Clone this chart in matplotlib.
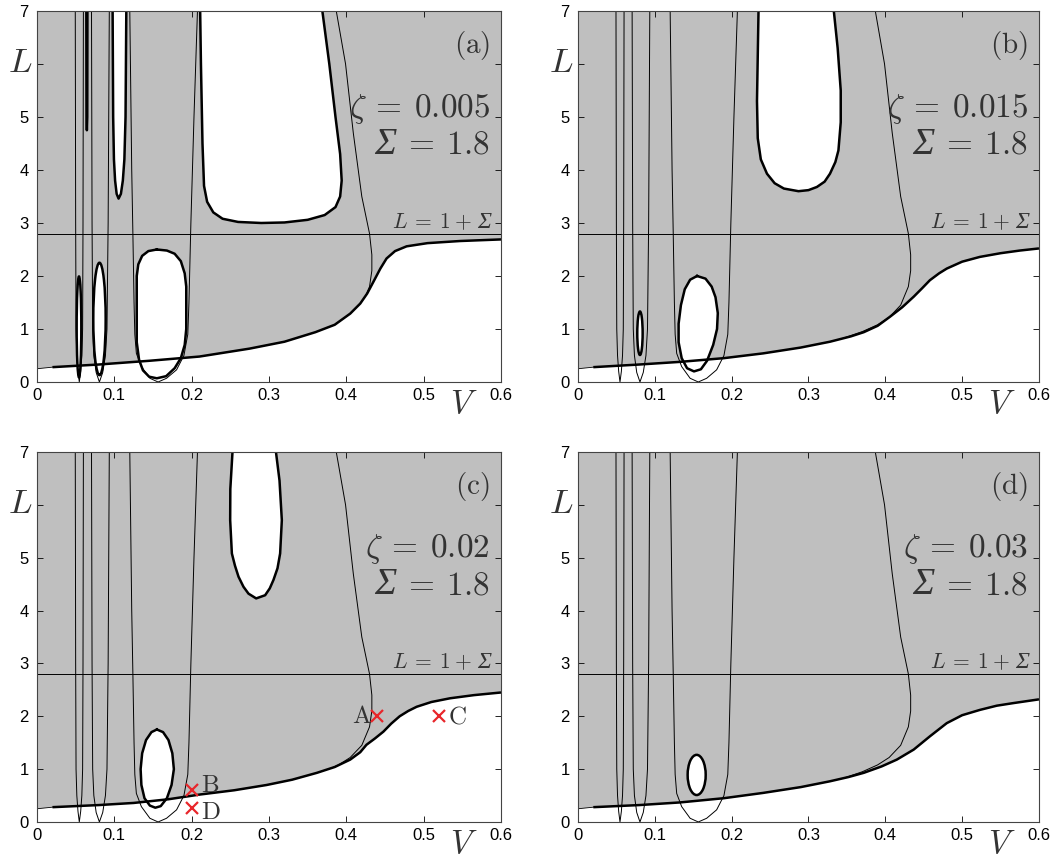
import numpy as np
import matplotlib
matplotlib.use("Agg")
import matplotlib.pyplot as plt
from matplotlib.patches import Polygon, Ellipse

plt.rcParams["mathtext.fontset"] = "cm"
plt.rcParams["font.family"] = ["Liberation Sans", "DejaVu Sans"]

GRAY = "#bfbfbf"
TEXT = "#333333"
RED = "#e8262b"
SIGMA = 1.8
V_MAX = 0.6
L_MAX = 7.0

tags = ["a", "b", "c", "d"]
zetas = ["0.005", "0.015", "0.02", "0.03"]

# lower edge of the grey region (one per panel)
a_bv = [0.0, 0.02, 0.08, 0.145, 0.21, 0.275, 0.32, 0.36, 0.385, 0.405, 0.418,
        0.427, 0.435, 0.444, 0.452, 0.463, 0.478, 0.505, 0.547, 0.6]
a_bl = [0.25, 0.28, 0.33, 0.40, 0.48, 0.63, 0.76, 0.94, 1.08, 1.29, 1.48,
        1.67, 1.89, 2.14, 2.33, 2.47, 2.56, 2.62, 2.66, 2.69]

b_bv = [0.0, 0.02, 0.08, 0.133, 0.19, 0.241, 0.29, 0.328, 0.355, 0.372, 0.39,
        0.406, 0.422, 0.437, 0.448, 0.458, 0.47, 0.48, 0.50, 0.523, 0.55, 0.575, 0.6]
b_bl = [0.25, 0.28, 0.33, 0.38, 0.45, 0.54, 0.65, 0.76, 0.86, 0.94, 1.06,
        1.23, 1.41, 1.61, 1.77, 1.92, 2.05, 2.14, 2.27, 2.36, 2.43, 2.48, 2.52]

c_bv = [0.0, 0.02, 0.08, 0.125, 0.17, 0.211, 0.255, 0.297, 0.33, 0.362, 0.385,
        0.405, 0.418, 0.426, 0.437, 0.448, 0.458, 0.469, 0.48, 0.491, 0.51,
        0.534, 0.565, 0.6]
c_bl = [0.25, 0.28, 0.32, 0.36, 0.43, 0.52, 0.60, 0.70, 0.80, 0.93, 1.04,
        1.18, 1.32, 1.46, 1.58, 1.71, 1.86, 2.0, 2.1, 2.18, 2.27,
        2.34, 2.40, 2.45]

d_bv = [0.0, 0.02, 0.08, 0.133, 0.19, 0.241, 0.29, 0.328, 0.352, 0.372, 0.395,
        0.415, 0.437, 0.458, 0.48, 0.50, 0.523, 0.545, 0.567, 0.6]
d_bl = [0.25, 0.28, 0.32, 0.37, 0.45, 0.55, 0.66, 0.77, 0.85, 0.93, 1.05,
        1.18, 1.37, 1.62, 1.87, 2.02, 2.12, 2.20, 2.25, 2.32]

# thin contours, the same in every panel
u1_v = [0.0495, 0.0500, 0.0505, 0.0515, 0.0530, 0.0547, 0.0565, 0.0580, 0.0590, 0.0595, 0.0600]
u1_l = [7.0, 3.0, 1.0, 0.5, 0.2, 0.0, 0.2, 0.5, 1.0, 3.0, 7.0]
u2_v = [0.0705, 0.0712, 0.0720, 0.0735, 0.0765, 0.0807, 0.0850, 0.0885, 0.0905, 0.0920, 0.0935]
u2_l = [7.0, 3.0, 1.0, 0.5, 0.18, 0.0, 0.18, 0.5, 1.0, 3.0, 7.0]
u3_v = [0.1200, 0.1225, 0.1240, 0.1255, 0.1265, 0.1285, 0.1350, 0.1460, 0.1566,
        0.1675, 0.1805, 0.1900, 0.1950, 0.1965, 0.1990, 0.2030, 0.2075]
u3_l = [7.0, 4.0, 2.8, 1.5, 0.9, 0.54, 0.29, 0.07, 0.0,
        0.07, 0.23, 0.5, 0.9, 1.5, 3.0, 5.0, 7.0]
right_v = [0.3870, 0.3990, 0.4090, 0.4200, 0.4300, 0.4330, 0.4330, 0.4300,
           0.4200, 0.4050, 0.3900, 0.3700, 0.3500, 0.3300]
right_l = [7.0, 6.0, 4.7, 3.5, 2.8, 2.4, 2.1, 1.8,
           1.45, 1.22, 1.08, 0.95, 0.85, 0.75]

# white islands
a_big_v = [0.155, 0.168, 0.178, 0.186, 0.191, 0.193, 0.193, 0.191, 0.186, 0.178,
           0.167, 0.155, 0.145, 0.137, 0.132, 0.129, 0.129, 0.131, 0.136, 0.144]
a_big_l = [2.50, 2.48, 2.42, 2.28, 2.05, 1.80, 1.00, 0.70, 0.45, 0.26,
           0.11, 0.07, 0.10, 0.22, 0.42, 0.75, 2.00, 2.22, 2.38, 2.47]
a_tall_v = [0.0978, 0.0985, 0.0995, 0.1010, 0.1030, 0.1055, 0.1085, 0.1110, 0.1130, 0.1145, 0.1155]
a_tall_l = [7.0, 5.0, 4.2, 3.8, 3.55, 3.46, 3.55, 3.8, 4.2, 5.0, 7.0]
a_needle_v = [0.0638, 0.0640, 0.0645, 0.0650, 0.0652]
a_needle_l = [7.0, 5.0, 4.75, 5.0, 7.0]
a_top_v = [0.211, 0.212, 0.214, 0.216, 0.220, 0.228, 0.240, 0.260, 0.290, 0.320,
           0.350, 0.372, 0.386, 0.392, 0.394, 0.392, 0.386, 0.378, 0.369]
a_top_l = [7.0, 6.0, 4.5, 3.7, 3.4, 3.2, 3.08, 3.02, 3.0, 3.01,
           3.06, 3.15, 3.3, 3.5, 3.8, 4.3, 5.0, 6.0, 7.0]

b_egg_v = [0.155, 0.166, 0.174, 0.179, 0.182, 0.181, 0.176, 0.168, 0.160, 0.151,
           0.142, 0.135, 0.131, 0.131, 0.134, 0.139, 0.146]
b_egg_l = [2.0, 1.95, 1.8, 1.6, 1.3, 1.0, 0.7, 0.4, 0.24, 0.2,
           0.26, 0.45, 0.75, 1.1, 1.45, 1.75, 1.93]
b_top_v = [0.235, 0.233, 0.234, 0.238, 0.246, 0.256, 0.268, 0.287, 0.300, 0.311,
           0.321, 0.328, 0.335, 0.339, 0.342, 0.342, 0.338, 0.333]
b_top_l = [7.0, 5.3, 4.6, 4.2, 3.93, 3.75, 3.65, 3.6, 3.62, 3.68,
           3.78, 3.93, 4.15, 4.37, 4.9, 5.5, 6.3, 7.0]

c_egg_v = [0.155, 0.163, 0.170, 0.175, 0.177, 0.174, 0.168, 0.160, 0.153, 0.146,
           0.139, 0.135, 0.134, 0.136, 0.141, 0.148]
c_egg_l = [1.75, 1.70, 1.55, 1.30, 1.00, 0.70, 0.45, 0.30, 0.27, 0.31,
           0.45, 0.70, 1.00, 1.30, 1.55, 1.70]
c_top_v = [0.2528, 0.2500, 0.2498, 0.2520, 0.2560, 0.2606, 0.2670, 0.2735, 0.2834,
           0.2950, 0.3010, 0.3058, 0.3110, 0.3144, 0.3166, 0.3136, 0.3090]
c_top_l = [7.0, 6.3, 5.71, 5.08, 4.85, 4.64, 4.45, 4.32, 4.23,
           4.29, 4.42, 4.58, 4.8, 5.08, 5.71, 6.46, 7.0]

# small elliptic islands: centre V, centre L, width, height
a_ell = [(0.0543, 1.04, 0.0060, 1.90), (0.0808, 1.19, 0.0160, 2.12)]
b_ell = [(0.0807, 0.92, 0.0070, 0.82)]
c_ell = []
d_ell = [(0.1545, 0.89, 0.0235, 0.76)]

# points marked in panel (c)
pt_names = ["A", "B", "C", "D"]
pt_v = [0.44, 0.20, 0.52, 0.20]
pt_l = [2.0, 0.6, 2.0, 0.27]

x_ticks = [0.0, 0.1, 0.2, 0.3, 0.4, 0.5, 0.6]
x_labels = ["0", "0.1", "0.2", "0.3", "0.4", "0.5", "0.6"]
y_ticks = [0, 1, 2, 3, 4, 5, 6, 7]
y_labels = ["0", "1", "2", "3", "4", "5", "", "7"]

panels = [
    (a_bv, a_bl, [(a_big_v, a_big_l), (a_tall_v, a_tall_l), (a_needle_v, a_needle_l), (a_top_v, a_top_l)], a_ell),
    (b_bv, b_bl, [(b_egg_v, b_egg_l), (b_top_v, b_top_l)], b_ell),
    (c_bv, c_bl, [(c_egg_v, c_egg_l), (c_top_v, c_top_l)], c_ell),
    (d_bv, d_bl, [], d_ell),
]

positions = [
    [0.0348, 0.5553, 0.4365, 0.4319],
    [0.5437, 0.5553, 0.4337, 0.4319],
    [0.0348, 0.0431, 0.4365, 0.4307],
    [0.5437, 0.0431, 0.4337, 0.4307],
]

# italic capital sigma, set in a serif face (cm mathtext keeps it upright)
SIG_FONT = dict(fontfamily="Liberation Serif", fontstyle="italic", color=TEXT)


def draw_panel(ax, tag, zeta, bv, bl, islands, ellipses):
    ax.set_xlim(0, V_MAX)
    ax.set_ylim(0, L_MAX)

    verts = list(zip(bv, bl)) + [(V_MAX, L_MAX), (0, L_MAX)]
    region = Polygon(verts, closed=True, facecolor=GRAY, edgecolor="none", zorder=1)
    ax.add_patch(region)
    ax.plot(bv, bl, color="k", lw=0.6, zorder=2)
    start = int(np.searchsorted(bv, 0.02))
    ax.plot(bv[start:], bl[start:], color="k", lw=1.8, zorder=6, solid_capstyle="butt")

    for iv, il in islands:
        ax.add_patch(Polygon(np.column_stack([iv, il]), closed=True,
                             facecolor="white", edgecolor="none", zorder=3))
        if il[0] >= L_MAX and il[-1] >= L_MAX:
            ax.plot(iv, il, color="k", lw=1.8, zorder=5)
        else:
            ax.plot(list(iv) + [iv[0]], list(il) + [il[0]], color="k", lw=1.8, zorder=5)

    for cv, cl, w, h in ellipses:
        ax.add_patch(Ellipse((cv, cl), w, h, facecolor="white", edgecolor="k",
                             lw=1.8, zorder=5))

    for tv, tl in [(u1_v, u1_l), (u2_v, u2_l), (u3_v, u3_l)]:
        ax.plot(tv, tl, color="k", lw=0.7, zorder=4)
    line, = ax.plot(right_v, right_l, color="k", lw=0.7, zorder=4)
    line.set_clip_path(region)

    ax.axhline(1 + SIGMA, color="k", lw=0.7, zorder=4)

    ax.text(0.976, 0.908, r"$\mathrm{(%s)}$" % tag, transform=ax.transAxes,
            ha="right", va="center", fontsize=21, color=TEXT, zorder=7)
    ax.text(0.976, 0.715, r"$\zeta\:=\:%s$" % zeta, transform=ax.transAxes,
            ha="right", va="baseline", fontsize=24, color=TEXT, zorder=7)
    eq = ax.text(0.976, 0.615, r"$\:=\:1.8$", transform=ax.transAxes,
                 ha="right", va="baseline", fontsize=24, color=TEXT, zorder=7)
    ax.annotate("Σ", xy=(0, 0.615), xycoords=(eq, "axes fraction"),
                ha="right", va="baseline", fontsize=27, zorder=7, **SIG_FONT)

    lhs_l = 1 + SIGMA + 0.11
    lhs = ax.text(0.5625, lhs_l, r"$L\:=\:1\:+$", ha="right", va="baseline",
                  fontsize=15.5, color=TEXT, zorder=7)
    ax.annotate("Σ", xy=(1, lhs_l), xycoords=(lhs, "data"),
                xytext=(3.5, 0), textcoords="offset points",
                ha="left", va="baseline", fontsize=17, zorder=7, **SIG_FONT)

    ax.text(-0.037, 0.862, r"$L$", transform=ax.transAxes, ha="center", va="center",
            fontsize=25, color=TEXT)
    ax.text(0.92, -0.062, r"$V$", transform=ax.transAxes, ha="center", va="center",
            fontsize=24, color=TEXT)

    ax.set_xticks(x_ticks)
    ax.set_xticklabels(x_labels)
    ax.set_yticks(y_ticks)
    ax.set_yticklabels(y_labels)
    ax.tick_params(direction="in", top=True, right=True, length=4, width=0.6,
                   labelsize=12, colors="k")
    ax.tick_params(axis="y", pad=6)
    ax.tick_params(axis="x", pad=4)
    for sp in ax.spines.values():
        sp.set_linewidth(0.8)
        sp.set_color("#444444")
        sp.set_zorder(8)


fig = plt.figure(figsize=(10.63, 8.59), dpi=100)

for i, (bv, bl, islands, ellipses) in enumerate(panels):
    ax = fig.add_axes(positions[i])
    draw_panel(ax, tags[i], zetas[i], bv, bl, islands, ellipses)
    if tags[i] == "c":
        ax.plot(pt_v, pt_l, linestyle="none", marker="x", color=RED,
                markersize=8, markeredgewidth=1.6, zorder=9)
        for name, pv, pl in zip(pt_names, pt_v, pt_l):
            if name == "A":
                ax.text(pv - 0.007, pl, r"$\mathrm{A}$", ha="right", va="center",
                        fontsize=18, color=TEXT, zorder=9)
            elif name == "B":
                ax.text(pv + 0.012, pl + 0.1, r"$\mathrm{B}$", ha="left", va="center",
                        fontsize=18, color=TEXT, zorder=9)
            elif name == "D":
                ax.text(pv + 0.012, pl - 0.09, r"$\mathrm{D}$", ha="left", va="center",
                        fontsize=18, color=TEXT, zorder=9)
            else:
                ax.text(pv + 0.012, pl, r"$\mathrm{C}$", ha="left", va="center",
                        fontsize=18, color=TEXT, zorder=9)

fig.savefig("out.png", dpi=100)
